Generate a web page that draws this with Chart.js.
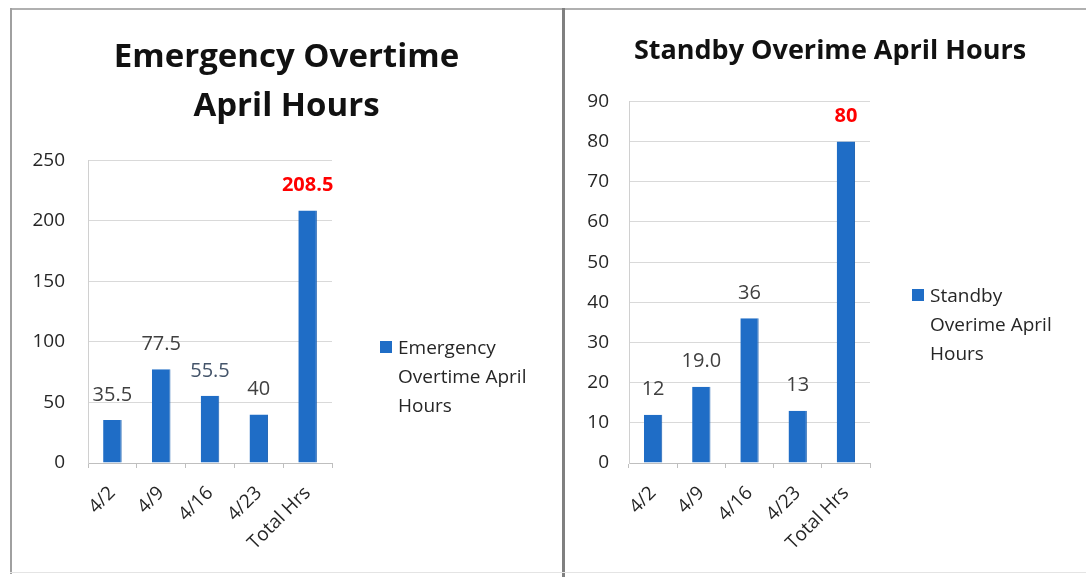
<!DOCTYPE html>
<html>
<head>
<meta charset="utf-8">
<script src="https://cdn.jsdelivr.net/npm/chart.js@4.4.1/dist/chart.umd.min.js"></script>
<style>
body{margin:0;background:#fff;width:1086px;height:577px;position:relative;overflow:hidden;font-family:"Open Sans",sans-serif}
.frame{position:absolute;background:#fff}
#left{left:12px;top:10px;width:549px;height:562px}
#right{left:566px;top:10px;width:520px;height:562px}
.lineTop{position:absolute;left:10px;top:8px;width:1076px;height:2px;background:#b0b0b0}
.lineLeft{position:absolute;left:10px;top:8px;width:2px;height:566px;background:#a0a0a0}
.lineMid{position:absolute;left:562px;top:8px;width:3px;height:569px;background:#808080}
.lineBot{position:absolute;left:10px;top:572px;width:1076px;height:1px;background:#e4e4e4}
.legend{position:absolute;font-size:19px;line-height:29px;color:#262626}
.legend .sw{position:absolute;left:0;top:8px;width:12px;height:12px;background:#1f6dc6}
.legend .tx{position:absolute;left:18px;top:0}
</style>
</head>
<body>
<div class="lineTop"></div>
<div class="lineLeft"></div>
<div class="lineMid"></div>
<div class="lineBot"></div>
<div class="frame" id="left"><canvas id="emergencyChart" width="549" height="562"></canvas></div>
<div class="frame" id="right"><canvas id="standbyChart" width="520" height="562"></canvas></div>
<div class="legend" id="legendLeft" style="left:380px;top:333px"></div>
<div class="legend" id="legendRight" style="left:912px;top:281px"></div>
<script>
const categories = ["4/2","4/9","4/16","4/23","Total Hrs"]

const emergencyHours = [35.5, 77.5, 55.5, 40, 208.5]
const emergencyText = ["35.5","77.5","55.5","40","208.5"]

const standbyHours = [12, 19, 36, 13, 80]
const standbyText = ["12","19.0","36","13","80"]

const barBlue = "#1f6dc6"
const labelColors = ["#404040","#404040","#44546a","#404040","#ff0000"]
const standbyColors = ["#404040","#404040","#404040","#404040","#ff0000"]

// подписи над столбцами
const valueLabels = {
id:"valueLabels",
afterDatasetsDraw(chart, args, opts){
const ctx = chart.ctx
const meta = chart.getDatasetMeta(0)
ctx.save()
ctx.textAlign = "center"
ctx.textBaseline = "middle"
meta.data.forEach((bar,i)=>{
const last = i===meta.data.length-1
ctx.font = (last ? "bold " : "") + "20px 'Open Sans'"
ctx.fillStyle = opts.colors[i]
ctx.fillText(opts.texts[i], bar.x, bar.y-25)
})
ctx.restore()
}
}

// пустое место справа под легенду (заголовок остаётся по центру всего холста)
const rightGap = {
id:"rightGap",
beforeInit(chart, args, opts){
Chart.layouts.addBox(chart,{
position:"right", fullSize:false, weight:0, options:{},
left:0, top:0, right:0, bottom:0, width:0, height:0,
isHorizontal(){ return false },
update(maxW, maxH){ this.width = opts.size; this.height = maxH },
getPadding(){ return {left:0,right:0,top:0,bottom:0} },
draw(){}
})
}
}

function makeChart(id, label, values, texts, colors, cfg){
return new Chart(document.getElementById(id),{
type:"bar",
data:{
labels:categories,
datasets:[{
label:label,
data:values,
backgroundColor:barBlue,
borderColor:"#1a5fb0",
borderWidth:{left:0,right:1,top:0,bottom:0},
barPercentage:0.38,
categoryPercentage:1
}]
},
plugins:[valueLabels, rightGap],
options:{
responsive:false,
animation:false,
layout:{padding:{left:cfg.padLeft,right:0,top:0,bottom:0}},
plugins:{
legend:{display:false},
tooltip:{enabled:false},
title:{
display:true,
text:cfg.title,
color:"#111",
font:{family:"Open Sans",weight:"bold",size:cfg.titleSize,lineHeight:cfg.titleLine},
padding:{top:cfg.titleTop,bottom:cfg.titleBottom}
},
valueLabels:{texts:texts, colors:colors},
rightGap:{size:cfg.gap}
},
scales:{
x:{
grid:{display:true,drawOnChartArea:false,drawTicks:true,tickLength:5,offset:true,color:"#bfbfbf"},
border:{color:"#bfbfbf",width:1},
ticks:{color:"#262626",font:{family:"Open Sans",size:19},maxRotation:45,minRotation:45,padding:14},
afterFit(scale){ scale.height = 562-453 }
},
y:{
min:0,
max:cfg.max,
grid:{color:"#d9d9d9",drawTicks:false},
border:{color:"#d0d0d0",width:1},
ticks:{stepSize:cfg.step,color:"#262626",font:{family:"Open Sans",size:19},padding:cfg.tickPad},
afterFit(scale){ scale.width = cfg.axisWidth }
}
}
}
})
}

const c1 = makeChart("emergencyChart","Emergency Overtime April Hours",emergencyHours,emergencyText,labelColors,{
gap:229, padLeft:0, title:["Emergency Overtime","April Hours"], titleSize:33, titleLine:1.46,
titleTop:24, titleBottom:30, max:250, step:50, tickPad:23, axisWidth:76
})

const c2 = makeChart("standbyChart","Standby Overime April Hours",standbyHours,standbyText,standbyColors,{
gap:216, padLeft:8, title:"Standby Overime April Hours", titleSize:27, titleLine:1.2,
titleTop:25, titleBottom:34, max:90, step:10, tickPad:20, axisWidth:55
})

// легенда справа от графика
function legendHtml(chart, el, w){
const ds = chart.data.datasets[0]
el.innerHTML = '<span class="sw"></span><span class="tx" style="width:'+w+'px">'+ds.label+'</span>'
}
legendHtml(c1, document.getElementById("legendLeft"), 160)
legendHtml(c2, document.getElementById("legendRight"), 140)
</script>
</body>
</html>
